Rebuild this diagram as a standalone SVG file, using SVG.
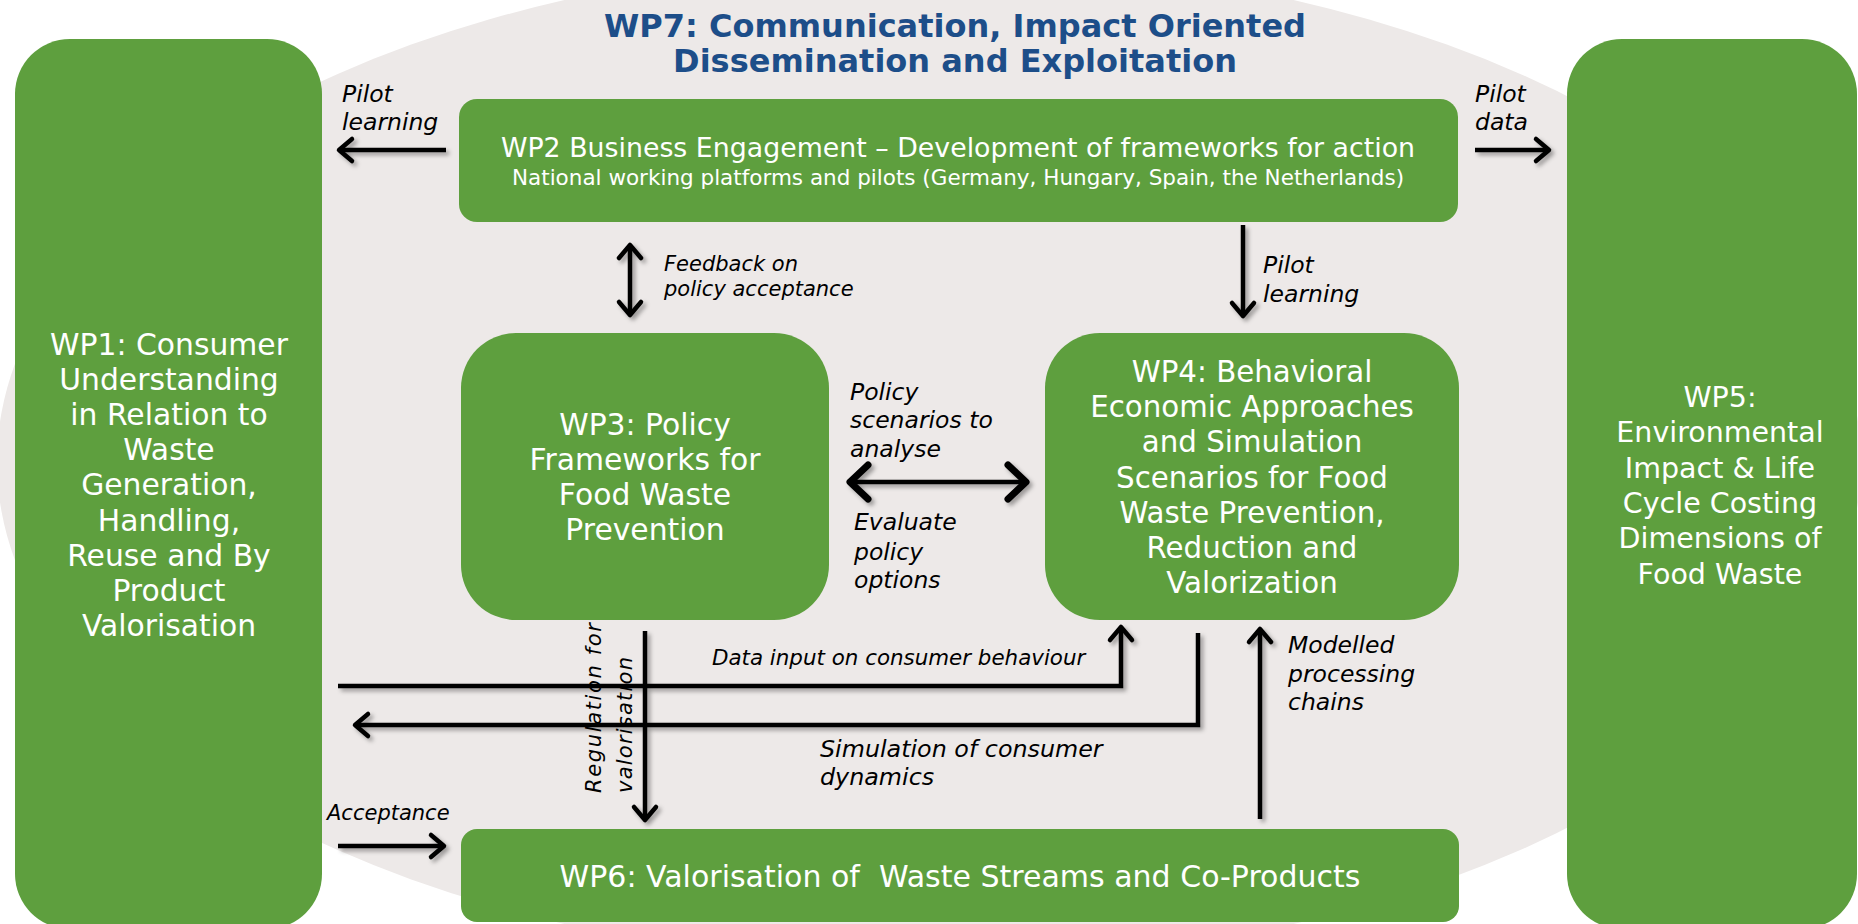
<svg xmlns="http://www.w3.org/2000/svg" width="1858" height="924" viewBox="0 0 1858 924">
<style>
.box{fill:#5E9F3E}
.t{font-family:"DejaVu Sans",Verdana,sans-serif;fill:#fff;text-anchor:middle}
.lbl{font-family:"DejaVu Sans",Verdana,sans-serif;font-style:italic;fill:#000}
.title{font-family:"DejaVu Sans",Verdana,sans-serif;font-weight:bold;fill:#1D4E89;text-anchor:middle;font-size:32px}
.c{fill:none;stroke:#000;stroke-width:4.5}
</style>
<defs>
<filter id="sh" x="-10%" y="-10%" width="130%" height="130%">
<feDropShadow dx="3" dy="3" stdDeviation="2" flood-color="#000" flood-opacity="0.35"/>
</filter>
<marker id="ah" viewBox="-20 -15 25 30" refX="0" refY="0" markerWidth="25" markerHeight="30" markerUnits="userSpaceOnUse" orient="auto-start-reverse">
<path d="M-13,-11 L0,0 L-13,11" fill="none" stroke="#000" stroke-width="4.5" stroke-linejoin="round" stroke-linecap="round"/>
</marker>
<marker id="ahL" viewBox="-30 -22 36 44" refX="0" refY="0" markerWidth="36" markerHeight="44" markerUnits="userSpaceOnUse" orient="auto-start-reverse">
<path d="M-18,-17 L0,0 L-18,17" fill="none" stroke="#000" stroke-width="7" stroke-linejoin="round" stroke-linecap="round"/>
</marker>
</defs>
<rect width="1858" height="924" fill="#fff"/>
<g id="wp7">
<ellipse cx="929" cy="462" rx="932" ry="502" fill="#EDE9E8"/>
<text class="title" x="955" y="37">WP7: Communication, Impact Oriented</text>
<text class="title" x="955" y="72">Dissemination and Exploitation</text>
</g>
<g id="wp1">
<rect class="box" x="15" y="39" width="307" height="890" rx="55"/>
<text class="t" font-size="29.8" x="169" y="355">WP1: Consumer<tspan x="169" dy="35.1">Understanding</tspan><tspan x="169" dy="35.1">in Relation to</tspan><tspan x="169" dy="35.1">Waste</tspan><tspan x="169" dy="35.1">Generation,</tspan><tspan x="169" dy="35.1">Handling,</tspan><tspan x="169" dy="35.1">Reuse and By</tspan><tspan x="169" dy="35.1">Product</tspan><tspan x="169" dy="35.1">Valorisation</tspan></text>
</g>
<g id="wp5">
<rect class="box" x="1567" y="39" width="290" height="890" rx="55"/>
<text class="t" font-size="28.5" x="1720" y="407">WP5:<tspan x="1720" dy="35.3">Environmental</tspan><tspan x="1720" dy="35.3">Impact &amp; Life</tspan><tspan x="1720" dy="35.3">Cycle Costing</tspan><tspan x="1720" dy="35.3">Dimensions of</tspan><tspan x="1720" dy="35.3">Food Waste</tspan></text>
</g>
<g id="wp2">
<rect class="box" x="459" y="99" width="999" height="123" rx="18"/>
<text class="t" font-size="26.8" x="958" y="157">WP2 Business Engagement – Development of frameworks for action</text>
<text class="t" font-size="21.5" x="958" y="185">National working platforms and pilots (Germany, Hungary, Spain, the Netherlands)</text>
</g>
<g id="wp3">
<rect class="box" x="461" y="333" width="368" height="287" rx="55"/>
<text class="t" font-size="29.8" x="645" y="435">WP3: Policy<tspan x="645" dy="35">Frameworks for</tspan><tspan x="645" dy="35">Food Waste</tspan><tspan x="645" dy="35">Prevention</tspan></text>
</g>
<g id="wp4">
<rect class="box" x="1045" y="333" width="414" height="287" rx="55"/>
<text class="t" font-size="29.3" x="1252" y="382">WP4: Behavioral<tspan x="1252" dy="35.2">Economic Approaches</tspan><tspan x="1252" dy="35.2">and Simulation</tspan><tspan x="1252" dy="35.2">Scenarios for Food</tspan><tspan x="1252" dy="35.2">Waste Prevention,</tspan><tspan x="1252" dy="35.2">Reduction and</tspan><tspan x="1252" dy="35.2">Valorization</tspan></text>
</g>
<g id="wp6">
<rect class="box" x="461" y="829" width="998" height="93" rx="16"/>
<text class="t" font-size="30" x="960" y="887" xml:space="preserve">WP6: Valorisation of  Waste Streams and Co-Products</text>
</g>
<g id="connectors" filter="url(#sh)">
<line class="c" x1="446" y1="150" x2="339" y2="150" marker-end="url(#ah)"/>
<line class="c" x1="1475" y1="150" x2="1549" y2="150" marker-end="url(#ah)"/>
<line class="c" x1="630" y1="245" x2="630" y2="315" marker-start="url(#ah)" marker-end="url(#ah)"/>
<line class="c" x1="1243" y1="225" x2="1243" y2="316" marker-end="url(#ah)"/>
<line class="c" stroke-width="7" x1="850" y1="482" x2="1026" y2="482" marker-start="url(#ahL)" marker-end="url(#ahL)"/>
<line class="c" x1="645" y1="631" x2="645" y2="820" marker-end="url(#ah)"/>
<polyline class="c" stroke-width="6" points="338,686 1121,686 1121,627" marker-end="url(#ah)"/>
<polyline class="c" stroke-width="5" points="1198,633 1198,725 355,725" marker-end="url(#ah)"/>
<line class="c" x1="1260" y1="819" x2="1260" y2="629" marker-end="url(#ah)"/>
<line class="c" x1="338" y1="846" x2="444" y2="846" marker-end="url(#ah)"/>
</g>
<g id="labels">
<text class="lbl" font-size="23.5" x="342" y="102">Pilot<tspan x="342" y="130">learning</tspan></text>
<text class="lbl" font-size="23.5" x="1475" y="102">Pilot<tspan x="1475" y="130">data</tspan></text>
<text class="lbl" font-size="21" x="664" y="271">Feedback on<tspan x="664" y="296">policy acceptance</tspan></text>
<text class="lbl" font-size="23.5" x="1263" y="273">Pilot<tspan x="1263" y="302">learning</tspan></text>
<text class="lbl" font-size="23.5" x="850" y="400">Policy<tspan x="850" y="428">scenarios to</tspan><tspan x="850" y="457">analyse</tspan></text>
<text class="lbl" font-size="23.5" x="854" y="530">Evaluate<tspan x="854" y="560">policy</tspan><tspan x="854" y="588">options</tspan></text>
<text class="lbl" font-size="21.4" x="712" y="665">Data input on consumer behaviour</text>
<text class="lbl" font-size="23.5" x="1288" y="653">Modelled<tspan x="1288" y="682">processing</tspan><tspan x="1288" y="710">chains</tspan></text>
<text class="lbl" font-size="23.8" x="820" y="757">Simulation of consumer<tspan x="820" y="785">dynamics</tspan></text>
<text class="lbl" font-size="21" x="327" y="820">Acceptance</text>
<text class="lbl" font-size="21" transform="translate(601,793) rotate(-90)" x="0" y="0" textLength="170" lengthAdjust="spacing">Regulation for</text>
<text class="lbl" font-size="21" transform="translate(632,793) rotate(-90)" x="0" y="0" textLength="136" lengthAdjust="spacing">valorisation</text>
</g>
</svg>
